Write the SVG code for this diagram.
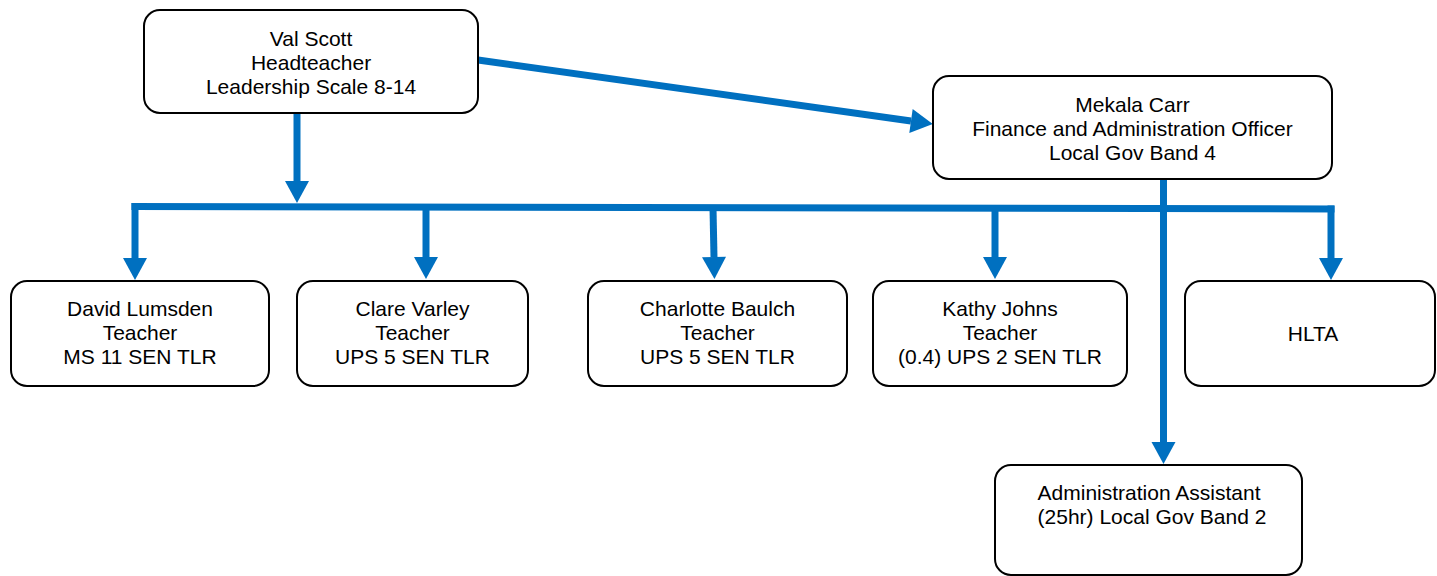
<svg xmlns="http://www.w3.org/2000/svg" width="1437" height="576" viewBox="0 0 1437 576">
  <style>
    .box { fill: #ffffff; stroke: #000000; stroke-width: 2; }
    .lbl { font-family: "Liberation Sans", Arial, sans-serif; font-size: 21px; fill: #000000; text-anchor: middle; }
    .wire { fill: none; stroke: #0070C0; stroke-width: 7; stroke-linecap: butt; }
    .arrow { fill: none; stroke: #0070C0; stroke-width: 7; marker-end: url(#head); }
  </style>
  <defs>
    <!-- arrowhead: base at the path end, tip 22px beyond it -->
    <marker id="head" markerUnits="userSpaceOnUse" viewBox="0 -12 22 24" refX="0" refY="0" markerWidth="22" markerHeight="24" orient="auto" overflow="visible">
      <path d="M0,-12 L22,0 L0,12 Z" fill="#0070C0"/>
    </marker>
  </defs>
  <rect width="1437" height="576" fill="#ffffff"/>

  <g id="connectors">
    <!-- headteacher to finance officer -->
    <line class="arrow" x1="478" y1="60" x2="911" y2="121"/>
    <!-- headteacher down to the staff bus -->
    <line class="arrow" x1="297" y1="113" x2="297" y2="181"/>
    <!-- staff bus -->
    <line class="wire" x1="131.5" y1="206.5" x2="1334.5" y2="209"/>
    <line class="arrow" x1="135" y1="203" x2="135" y2="258"/>
    <line class="arrow" x1="426" y1="207" x2="426" y2="257"/>
    <line class="arrow" x1="713" y1="208" x2="714" y2="257"/>
    <line class="arrow" x1="995" y1="208" x2="995" y2="257"/>
    <line class="arrow" x1="1331" y1="205.5" x2="1331" y2="258"/>
    <!-- finance officer down to administration assistant -->
    <line class="arrow" x1="1163.5" y1="179" x2="1163.5" y2="442"/>
  </g>

  <g id="val-scott">
    <rect class="box" x="144" y="10" width="334" height="103" rx="16"/>
    <text class="lbl" x="311" y="46">Val Scott</text>
    <text class="lbl" x="311" y="70">Headteacher</text>
    <text class="lbl" x="311" y="94">Leadership Scale 8-14</text>
  </g>

  <g id="mekala-carr">
    <rect class="box" x="933" y="76" width="399" height="103" rx="16"/>
    <text class="lbl" x="1132.5" y="112">Mekala Carr</text>
    <text class="lbl" x="1132.5" y="136">Finance and Administration Officer</text>
    <text class="lbl" x="1132.5" y="160">Local Gov Band 4</text>
  </g>

  <g id="david-lumsden">
    <rect class="box" x="11" y="281" width="258" height="105" rx="16"/>
    <text class="lbl" x="140" y="316">David Lumsden</text>
    <text class="lbl" x="140" y="340">Teacher</text>
    <text class="lbl" x="140" y="364">MS 11 SEN TLR</text>
  </g>

  <g id="clare-varley">
    <rect class="box" x="297" y="281" width="231" height="105" rx="16"/>
    <text class="lbl" x="412.5" y="316">Clare Varley</text>
    <text class="lbl" x="412.5" y="340">Teacher</text>
    <text class="lbl" x="412.5" y="364">UPS 5 SEN TLR</text>
  </g>

  <g id="charlotte-baulch">
    <rect class="box" x="588" y="281" width="259" height="105" rx="16"/>
    <text class="lbl" x="717.5" y="316">Charlotte Baulch</text>
    <text class="lbl" x="717.5" y="340">Teacher</text>
    <text class="lbl" x="717.5" y="364">UPS 5 SEN TLR</text>
  </g>

  <g id="kathy-johns">
    <rect class="box" x="873" y="281" width="254" height="105" rx="16"/>
    <text class="lbl" x="1000" y="316">Kathy Johns</text>
    <text class="lbl" x="1000" y="340">Teacher</text>
    <text class="lbl" x="1000" y="364">(0.4) UPS 2 SEN TLR</text>
  </g>

  <g id="hlta">
    <rect class="box" x="1185" y="281" width="250" height="105" rx="16"/>
    <text class="lbl" x="1313" y="341">HLTA</text>
  </g>

  <g id="administration-assistant">
    <rect class="box" x="995" y="465" width="307" height="110" rx="16"/>
    <text class="lbl" x="1149" y="500">Administration Assistant</text>
    <text class="lbl" x="1152" y="524">(25hr) Local Gov Band 2</text>
  </g>
</svg>
